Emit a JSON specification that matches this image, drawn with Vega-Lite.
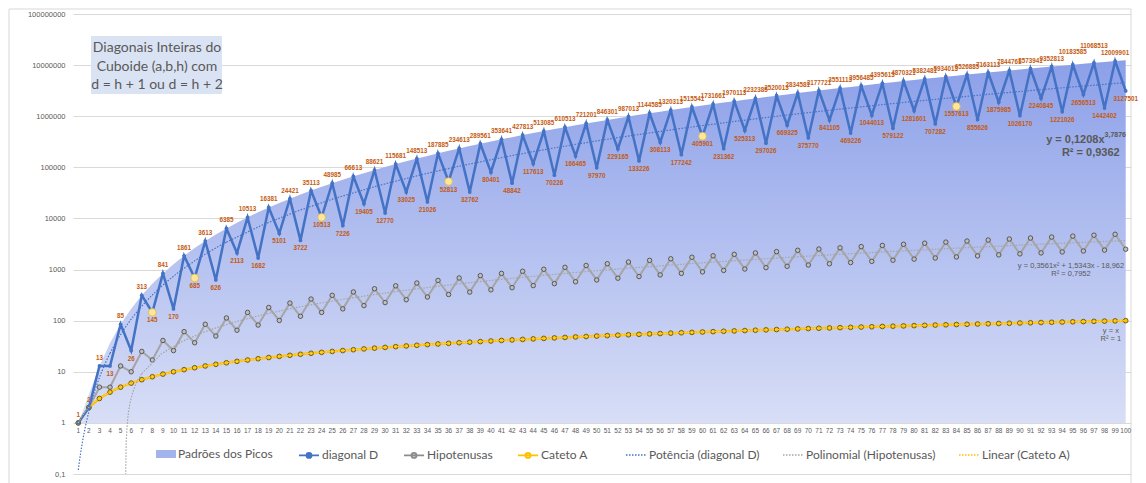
{
  "$schema": "https://vega.github.io/schema/vega-lite/v6.json",
  "width": 1058,
  "height": 460,
  "autosize": {"type": "none"},
  "padding": {"left": 73, "top": 14, "right": 15, "bottom": 9},
  "background": "white",
  "config": {"view": {"stroke": null}, "font": "Lato"},
  "resolve": {"scale": {"fill": "independent", "stroke": "independent"}, "legend": {"fill": "independent", "stroke": "independent"}},
  "data": {
    "values": [
      {"n": 1, "diagonal": 1, "hipotenusa": 1, "cateto": 1, "pico": 1},
      {"n": 2, "diagonal": 2, "hipotenusa": 2, "cateto": 2, "pico": 3.6},
      {"n": 3, "diagonal": 13, "hipotenusa": 5, "cateto": 3, "pico": 13},
      {"n": 4, "diagonal": 13, "hipotenusa": 5, "cateto": 4, "pico": 36.6},
      {"n": 5, "diagonal": 85, "hipotenusa": 13, "cateto": 5, "pico": 85},
      {"n": 6, "diagonal": 26, "hipotenusa": 10, "cateto": 6, "pico": 171.6},
      {"n": 7, "diagonal": 313, "hipotenusa": 25, "cateto": 7, "pico": 313},
      {"n": 8, "diagonal": 145, "hipotenusa": 17, "cateto": 8, "pico": 528.6, "destaque": true},
      {"n": 9, "diagonal": 841, "hipotenusa": 41, "cateto": 9, "pico": 841},
      {"n": 10, "diagonal": 170, "hipotenusa": 26, "cateto": 10, "pico": 1275.6},
      {"n": 11, "diagonal": 1861, "hipotenusa": 61, "cateto": 11, "pico": 1861},
      {"n": 12, "diagonal": 685, "hipotenusa": 37, "cateto": 12, "pico": 2628.6, "destaque": true},
      {"n": 13, "diagonal": 3613, "hipotenusa": 85, "cateto": 13, "pico": 3613},
      {"n": 14, "diagonal": 626, "hipotenusa": 50, "cateto": 14, "pico": 4851.6},
      {"n": 15, "diagonal": 6385, "hipotenusa": 113, "cateto": 15, "pico": 6385},
      {"n": 16, "diagonal": 2113, "hipotenusa": 65, "cateto": 16, "pico": 8256.6},
      {"n": 17, "diagonal": 10513, "hipotenusa": 145, "cateto": 17, "pico": 10513},
      {"n": 18, "diagonal": 1682, "hipotenusa": 82, "cateto": 18, "pico": 13204},
      {"n": 19, "diagonal": 16381, "hipotenusa": 181, "cateto": 19, "pico": 16381},
      {"n": 20, "diagonal": 5101, "hipotenusa": 101, "cateto": 20, "pico": 20101},
      {"n": 21, "diagonal": 24421, "hipotenusa": 221, "cateto": 21, "pico": 24421},
      {"n": 22, "diagonal": 3722, "hipotenusa": 122, "cateto": 22, "pico": 29404},
      {"n": 23, "diagonal": 35113, "hipotenusa": 265, "cateto": 23, "pico": 35113},
      {"n": 24, "diagonal": 10513, "hipotenusa": 145, "cateto": 24, "pico": 41617, "destaque": true},
      {"n": 25, "diagonal": 48985, "hipotenusa": 313, "cateto": 25, "pico": 48985},
      {"n": 26, "diagonal": 7226, "hipotenusa": 170, "cateto": 26, "pico": 57292},
      {"n": 27, "diagonal": 66613, "hipotenusa": 365, "cateto": 27, "pico": 66613},
      {"n": 28, "diagonal": 19405, "hipotenusa": 197, "cateto": 28, "pico": 77029},
      {"n": 29, "diagonal": 88621, "hipotenusa": 421, "cateto": 29, "pico": 88621},
      {"n": 30, "diagonal": 12770, "hipotenusa": 226, "cateto": 30, "pico": 101476},
      {"n": 31, "diagonal": 115681, "hipotenusa": 481, "cateto": 31, "pico": 115681},
      {"n": 32, "diagonal": 33025, "hipotenusa": 257, "cateto": 32, "pico": 131329},
      {"n": 33, "diagonal": 148513, "hipotenusa": 545, "cateto": 33, "pico": 148513},
      {"n": 34, "diagonal": 21026, "hipotenusa": 290, "cateto": 34, "pico": 167332},
      {"n": 35, "diagonal": 187885, "hipotenusa": 613, "cateto": 35, "pico": 187885},
      {"n": 36, "diagonal": 52813, "hipotenusa": 325, "cateto": 36, "pico": 210277, "destaque": true},
      {"n": 37, "diagonal": 234613, "hipotenusa": 685, "cateto": 37, "pico": 234613},
      {"n": 38, "diagonal": 32762, "hipotenusa": 362, "cateto": 38, "pico": 261004},
      {"n": 39, "diagonal": 289561, "hipotenusa": 761, "cateto": 39, "pico": 289561},
      {"n": 40, "diagonal": 80401, "hipotenusa": 401, "cateto": 40, "pico": 320401},
      {"n": 41, "diagonal": 353641, "hipotenusa": 841, "cateto": 41, "pico": 353641},
      {"n": 42, "diagonal": 48842, "hipotenusa": 442, "cateto": 42, "pico": 389404},
      {"n": 43, "diagonal": 427813, "hipotenusa": 925, "cateto": 43, "pico": 427813},
      {"n": 44, "diagonal": 117613, "hipotenusa": 485, "cateto": 44, "pico": 468997},
      {"n": 45, "diagonal": 513085, "hipotenusa": 1013, "cateto": 45, "pico": 513085},
      {"n": 46, "diagonal": 70226, "hipotenusa": 530, "cateto": 46, "pico": 560212},
      {"n": 47, "diagonal": 610513, "hipotenusa": 1105, "cateto": 47, "pico": 610513},
      {"n": 48, "diagonal": 166465, "hipotenusa": 577, "cateto": 48, "pico": 664129},
      {"n": 49, "diagonal": 721201, "hipotenusa": 1201, "cateto": 49, "pico": 721201},
      {"n": 50, "diagonal": 97970, "hipotenusa": 626, "cateto": 50, "pico": 781876},
      {"n": 51, "diagonal": 846301, "hipotenusa": 1301, "cateto": 51, "pico": 846301},
      {"n": 52, "diagonal": 229165, "hipotenusa": 677, "cateto": 52, "pico": 914629},
      {"n": 53, "diagonal": 987013, "hipotenusa": 1405, "cateto": 53, "pico": 987013},
      {"n": 54, "diagonal": 133226, "hipotenusa": 730, "cateto": 54, "pico": 1063612},
      {"n": 55, "diagonal": 1144585, "hipotenusa": 1513, "cateto": 55, "pico": 1144585},
      {"n": 56, "diagonal": 308113, "hipotenusa": 785, "cateto": 56, "pico": 1230097},
      {"n": 57, "diagonal": 1320313, "hipotenusa": 1625, "cateto": 57, "pico": 1320313},
      {"n": 58, "diagonal": 177242, "hipotenusa": 842, "cateto": 58, "pico": 1415404},
      {"n": 59, "diagonal": 1515541, "hipotenusa": 1741, "cateto": 59, "pico": 1515541},
      {"n": 60, "diagonal": 405901, "hipotenusa": 901, "cateto": 60, "pico": 1620901, "destaque": true},
      {"n": 61, "diagonal": 1731661, "hipotenusa": 1861, "cateto": 61, "pico": 1731661},
      {"n": 62, "diagonal": 231362, "hipotenusa": 962, "cateto": 62, "pico": 1848004},
      {"n": 63, "diagonal": 1970113, "hipotenusa": 1985, "cateto": 63, "pico": 1970113},
      {"n": 64, "diagonal": 525313, "hipotenusa": 1025, "cateto": 64, "pico": 2098177},
      {"n": 65, "diagonal": 2232385, "hipotenusa": 2113, "cateto": 65, "pico": 2232385},
      {"n": 66, "diagonal": 297026, "hipotenusa": 1090, "cateto": 66, "pico": 2372932},
      {"n": 67, "diagonal": 2520013, "hipotenusa": 2245, "cateto": 67, "pico": 2520013},
      {"n": 68, "diagonal": 669325, "hipotenusa": 1157, "cateto": 68, "pico": 2673829},
      {"n": 69, "diagonal": 2834581, "hipotenusa": 2381, "cateto": 69, "pico": 2834581},
      {"n": 70, "diagonal": 375770, "hipotenusa": 1226, "cateto": 70, "pico": 3002476},
      {"n": 71, "diagonal": 3177721, "hipotenusa": 2521, "cateto": 71, "pico": 3177721},
      {"n": 72, "diagonal": 841105, "hipotenusa": 1297, "cateto": 72, "pico": 3360529},
      {"n": 73, "diagonal": 3551113, "hipotenusa": 2665, "cateto": 73, "pico": 3551113},
      {"n": 74, "diagonal": 469226, "hipotenusa": 1370, "cateto": 74, "pico": 3749692},
      {"n": 75, "diagonal": 3956485, "hipotenusa": 2813, "cateto": 75, "pico": 3956485},
      {"n": 76, "diagonal": 1044013, "hipotenusa": 1445, "cateto": 76, "pico": 4171717},
      {"n": 77, "diagonal": 4395613, "hipotenusa": 2965, "cateto": 77, "pico": 4395613},
      {"n": 78, "diagonal": 579122, "hipotenusa": 1522, "cateto": 78, "pico": 4628404},
      {"n": 79, "diagonal": 4870321, "hipotenusa": 3121, "cateto": 79, "pico": 4870321},
      {"n": 80, "diagonal": 1281601, "hipotenusa": 1601, "cateto": 80, "pico": 5121601},
      {"n": 81, "diagonal": 5382481, "hipotenusa": 3281, "cateto": 81, "pico": 5382481},
      {"n": 82, "diagonal": 707282, "hipotenusa": 1682, "cateto": 82, "pico": 5653204},
      {"n": 83, "diagonal": 5934013, "hipotenusa": 3445, "cateto": 83, "pico": 5934013},
      {"n": 84, "diagonal": 1557613, "hipotenusa": 1765, "cateto": 84, "pico": 6225157, "destaque": true},
      {"n": 85, "diagonal": 6526885, "hipotenusa": 3613, "cateto": 85, "pico": 6526885},
      {"n": 86, "diagonal": 855626, "hipotenusa": 1850, "cateto": 86, "pico": 6839452},
      {"n": 87, "diagonal": 7163113, "hipotenusa": 3785, "cateto": 87, "pico": 7163113},
      {"n": 88, "diagonal": 1875985, "hipotenusa": 1937, "cateto": 88, "pico": 7498129},
      {"n": 89, "diagonal": 7844761, "hipotenusa": 3961, "cateto": 89, "pico": 7844761},
      {"n": 90, "diagonal": 1026170, "hipotenusa": 2026, "cateto": 90, "pico": 8203276},
      {"n": 91, "diagonal": 8573941, "hipotenusa": 4141, "cateto": 91, "pico": 8573941},
      {"n": 92, "diagonal": 2240845, "hipotenusa": 2117, "cateto": 92, "pico": 8957029},
      {"n": 93, "diagonal": 9352813, "hipotenusa": 4325, "cateto": 93, "pico": 9352813},
      {"n": 94, "diagonal": 1221026, "hipotenusa": 2210, "cateto": 94, "pico": 9761572},
      {"n": 95, "diagonal": 10183585, "hipotenusa": 4513, "cateto": 95, "pico": 10183585},
      {"n": 96, "diagonal": 2656513, "hipotenusa": 2305, "cateto": 96, "pico": 10619137},
      {"n": 97, "diagonal": 11068513, "hipotenusa": 4705, "cateto": 97, "pico": 11068513},
      {"n": 98, "diagonal": 1442402, "hipotenusa": 2402, "cateto": 98, "pico": 11532004},
      {"n": 99, "diagonal": 12009901, "hipotenusa": 4901, "cateto": 99, "pico": 12009901},
      {"n": 100, "diagonal": 3127501, "hipotenusa": 2501, "cateto": 100, "pico": 12502501}
    ]
  },
  "layer": [
    {
      "mark": {
        "type": "area",
        "opacity": 1,
        "color": {
          "gradient": "linear", "x1": 0, "y1": 0, "x2": 0, "y2": 1,
          "stops": [
            {"offset": 0, "color": "#8ca0e9"},
            {"offset": 1, "color": "#d8def6"}
          ]
        }
      },
      "encoding": {
        "x": {
          "field": "n", "type": "quantitative",
          "scale": {"domain": [0.5, 100.5], "nice": false, "zero": false},
          "axis": null
        },
        "y": {
          "field": "pico", "type": "quantitative",
          "scale": {"type": "log", "domain": [0.1, 100000000], "nice": false},
          "axis": {
            "title": null, "grid": true, "gridColor": "#d9d9d9", "gridWidth": 1,
            "domain": false, "ticks": false,
            "values": [0.1, 1, 10, 100, 1000, 10000, 100000, 1000000, 10000000, 100000000],
            "labelExpr": "datum.value < 1 ? '0,1' : format(datum.value, 'd')",
            "labelPadding": 8, "labelFontSize": 7.5, "labelColor": "#595959", "labelFont": "Liberation Sans"
          }
        },
        "y2": {"datum": 1}
      }
    },
    {
      "data": {"values": [{}]},
      "mark": {"type": "rect", "fill": null, "stroke": "#d9d9d9", "strokeWidth": 1, "clip": false},
      "encoding": {
        "x": {"datum": -5.55, "type": "quantitative"},
        "x2": {"datum": 100.5},
        "y": {"datum": 125300000, "type": "quantitative"},
        "y2": {"datum": 0.01}
      }
    },
    {
      "mark": {"type": "text", "dy": 8, "baseline": "middle", "align": "center", "fontSize": 6.5, "font": "Liberation Sans", "color": "#595959"},
      "encoding": {
        "x": {"field": "n", "type": "quantitative"},
        "y": {"datum": 1, "type": "quantitative"},
        "text": {"field": "n", "type": "quantitative", "format": "d"}
      }
    },
    {
      "data": {"values": [{}]},
      "mark": {"type": "rect", "fill": "#dae3f3"},
      "encoding": {
        "x": {"datum": 2.2, "type": "quantitative"},
        "x2": {"datum": 14.58},
        "y": {"datum": 37150000, "type": "quantitative"},
        "y2": {"datum": 2720000}
      }
    },
    {
      "data": {"values": [{}]},
      "mark": {
        "type": "text",
        "text": ["Diagonais Inteiras do", "Cuboide (a,b,h) com", "d = h + 1 ou d = h + 2"],
        "align": "center", "baseline": "middle", "lineHeight": 18.5,
        "fontSize": 14, "font": "Lato", "color": "#595959"
      },
      "encoding": {
        "x": {"datum": 8.44, "type": "quantitative"},
        "y": {"datum": 21610000, "type": "quantitative"}
      }
    },
    {
      "mark": {"type": "line", "color": "#a5a5a5", "strokeWidth": 2},
      "encoding": {
        "x": {"field": "n", "type": "quantitative"},
        "y": {"field": "hipotenusa", "type": "quantitative"}
      }
    },
    {
      "mark": {"type": "point", "shape": "circle", "filled": true, "fill": "#bfbfbf", "stroke": "#404040", "strokeWidth": 0.8, "size": 20, "opacity": 1},
      "encoding": {
        "x": {"field": "n", "type": "quantitative"},
        "y": {"field": "hipotenusa", "type": "quantitative"}
      }
    },
    {
      "mark": {"type": "line", "color": "#ffc000", "strokeWidth": 2.5},
      "encoding": {
        "x": {"field": "n", "type": "quantitative"},
        "y": {"field": "cateto", "type": "quantitative"}
      }
    },
    {
      "mark": {"type": "point", "shape": "circle", "filled": true, "fill": "#ffc000", "stroke": "#5a4500", "strokeWidth": 0.8, "size": 22, "opacity": 1},
      "encoding": {
        "x": {"field": "n", "type": "quantitative"},
        "y": {"field": "cateto", "type": "quantitative"}
      }
    },
    {
      "mark": {"type": "line", "color": "#4472c4", "strokeWidth": 2.5},
      "encoding": {
        "x": {"field": "n", "type": "quantitative"},
        "y": {"field": "diagonal", "type": "quantitative"}
      }
    },
    {
      "mark": {"type": "point", "shape": "circle", "filled": true, "color": "#4472c4", "size": 14, "opacity": 1},
      "encoding": {
        "x": {"field": "n", "type": "quantitative"},
        "y": {"field": "diagonal", "type": "quantitative"}
      }
    },
    {
      "transform": [{"filter": "datum.destaque"}],
      "mark": {"type": "point", "shape": "circle", "filled": true, "fill": "#ffe699", "stroke": "#d6b656", "strokeWidth": 0.8, "size": 60, "opacity": 1},
      "encoding": {
        "x": {"field": "n", "type": "quantitative"},
        "y": {"field": "diagonal", "type": "quantitative"}
      }
    },
    {
      "transform": [{"regression": "diagonal", "on": "n", "method": "pow", "extent": [1, 4]}],
      "mark": {"type": "line", "color": "#4472c4", "strokeWidth": 1.2, "strokeDash": [1.5, 1.5], "clip": true},
      "encoding": {
        "x": {"field": "n", "type": "quantitative"},
        "y": {"field": "diagonal", "type": "quantitative"}
      }
    },
    {
      "transform": [{"regression": "diagonal", "on": "n", "method": "pow", "extent": [4, 15]}],
      "mark": {"type": "line", "color": "#4472c4", "strokeWidth": 1.2, "strokeDash": [1.5, 1.5], "clip": true},
      "encoding": {
        "x": {"field": "n", "type": "quantitative"},
        "y": {"field": "diagonal", "type": "quantitative"}
      }
    },
    {
      "transform": [{"regression": "diagonal", "on": "n", "method": "pow", "extent": [15, 100]}],
      "mark": {"type": "line", "color": "#4472c4", "strokeWidth": 1.2, "strokeDash": [1.5, 1.5], "clip": true},
      "encoding": {
        "x": {"field": "n", "type": "quantitative"},
        "y": {"field": "diagonal", "type": "quantitative"}
      }
    },
    {
      "transform": [{"regression": "hipotenusa", "on": "n", "method": "poly", "order": 2, "extent": [5.47, 7]}],
      "mark": {"type": "line", "color": "#a5a5a5", "strokeWidth": 1.2, "strokeDash": [1.5, 1.5], "clip": true},
      "encoding": {
        "x": {"field": "n", "type": "quantitative"},
        "y": {"field": "hipotenusa", "type": "quantitative"}
      }
    },
    {
      "transform": [{"regression": "hipotenusa", "on": "n", "method": "poly", "order": 2, "extent": [7, 100]}],
      "mark": {"type": "line", "color": "#a5a5a5", "strokeWidth": 1.2, "strokeDash": [1.5, 1.5], "clip": true},
      "encoding": {
        "x": {"field": "n", "type": "quantitative"},
        "y": {"field": "hipotenusa", "type": "quantitative"}
      }
    },
    {
      "transform": [{"regression": "cateto", "on": "n", "method": "poly", "order": 1, "extent": [1, 3]}],
      "mark": {"type": "line", "color": "#ffd966", "strokeWidth": 1, "strokeDash": [1.5, 1.5], "clip": true},
      "encoding": {
        "x": {"field": "n", "type": "quantitative"},
        "y": {"field": "cateto", "type": "quantitative"}
      }
    },
    {
      "transform": [{"regression": "cateto", "on": "n", "method": "poly", "order": 1, "extent": [3, 12]}],
      "mark": {"type": "line", "color": "#ffd966", "strokeWidth": 1, "strokeDash": [1.5, 1.5], "clip": true},
      "encoding": {
        "x": {"field": "n", "type": "quantitative"},
        "y": {"field": "cateto", "type": "quantitative"}
      }
    },
    {
      "transform": [{"regression": "cateto", "on": "n", "method": "poly", "order": 1, "extent": [12, 100]}],
      "mark": {"type": "line", "color": "#ffd966", "strokeWidth": 1, "strokeDash": [1.5, 1.5], "clip": true},
      "encoding": {
        "x": {"field": "n", "type": "quantitative"},
        "y": {"field": "cateto", "type": "quantitative"}
      }
    },
    {
      "transform": [{"filter": "(datum.n % 2 == 1 || datum.n == 2) && datum.n != 95 && datum.n != 97"}],
      "mark": {"type": "text", "dy": -8, "baseline": "middle", "align": "center", "fontSize": 6.3, "fontWeight": "bold", "font": "Liberation Sans", "color": "#c55a11"},
      "encoding": {
        "x": {"field": "n", "type": "quantitative"},
        "y": {"field": "diagonal", "type": "quantitative"},
        "text": {"field": "diagonal", "type": "quantitative", "format": "d"}
      }
    },
    {
      "transform": [{"filter": "datum.n == 95"}],
      "mark": {"type": "text", "dy": -13, "baseline": "middle", "align": "center", "fontSize": 6.3, "fontWeight": "bold", "font": "Liberation Sans", "color": "#c55a11"},
      "encoding": {
        "x": {"field": "n", "type": "quantitative"},
        "y": {"field": "diagonal", "type": "quantitative"},
        "text": {"field": "diagonal", "type": "quantitative", "format": "d"}
      }
    },
    {
      "transform": [{"filter": "datum.n == 97"}],
      "mark": {"type": "text", "dy": -17, "baseline": "middle", "align": "center", "fontSize": 6.3, "fontWeight": "bold", "font": "Liberation Sans", "color": "#c55a11"},
      "encoding": {
        "x": {"field": "n", "type": "quantitative"},
        "y": {"field": "diagonal", "type": "quantitative"},
        "text": {"field": "diagonal", "type": "quantitative", "format": "d"}
      }
    },
    {
      "transform": [{"filter": "datum.n % 2 == 0 && datum.n > 2"}],
      "mark": {"type": "text", "dy": 8, "baseline": "middle", "align": "center", "fontSize": 6.3, "fontWeight": "bold", "font": "Liberation Sans", "color": "#c55a11"},
      "encoding": {
        "x": {"field": "n", "type": "quantitative"},
        "y": {"field": "diagonal", "type": "quantitative"},
        "text": {"field": "diagonal", "type": "quantitative", "format": "d"}
      }
    },
    {
      "data": {"values": [{}]},
      "mark": {"type": "text", "text": "y = 0,1208x", "align": "right", "baseline": "middle", "fontSize": 11, "fontWeight": "bold", "font": "Liberation Sans", "color": "#595959"},
      "encoding": {"x": {"datum": 98.0, "type": "quantitative"}, "y": {"datum": 342800, "type": "quantitative"}}
    },
    {
      "data": {"values": [{}]},
      "mark": {"type": "text", "text": "3,7876", "align": "left", "baseline": "middle", "fontSize": 7, "fontWeight": "bold", "font": "Liberation Sans", "color": "#595959"},
      "encoding": {"x": {"datum": 98.0, "type": "quantitative"}, "y": {"datum": 429500, "type": "quantitative"}}
    },
    {
      "data": {"values": [{}]},
      "mark": {"type": "text", "text": "R² = 0,9362", "align": "center", "baseline": "middle", "fontSize": 11, "fontWeight": "bold", "font": "Liberation Sans", "color": "#595959"},
      "encoding": {"x": {"datum": 96.7, "type": "quantitative"}, "y": {"datum": 190500, "type": "quantitative"}}
    },
    {
      "data": {"values": [{}]},
      "mark": {"type": "text", "text": "y = 0,3561x² + 1,5343x - 18,962", "align": "center", "baseline": "middle", "fontSize": 7.5, "font": "Liberation Sans", "color": "#595959"},
      "encoding": {"x": {"datum": 94.83, "type": "quantitative"}, "y": {"datum": 1175, "type": "quantitative"}}
    },
    {
      "data": {"values": [{}]},
      "mark": {"type": "text", "text": "R² = 0,7952", "align": "center", "baseline": "middle", "fontSize": 7.5, "font": "Liberation Sans", "color": "#595959"},
      "encoding": {"x": {"datum": 94.83, "type": "quantitative"}, "y": {"datum": 819, "type": "quantitative"}}
    },
    {
      "data": {"values": [{}]},
      "mark": {"type": "text", "text": "y = x", "align": "center", "baseline": "middle", "fontSize": 7.5, "font": "Liberation Sans", "color": "#595959"},
      "encoding": {"x": {"datum": 98.6, "type": "quantitative"}, "y": {"datum": 63.1, "type": "quantitative"}}
    },
    {
      "data": {"values": [{}]},
      "mark": {"type": "text", "text": "R² = 1", "align": "center", "baseline": "middle", "fontSize": 7.5, "font": "Liberation Sans", "color": "#595959"},
      "encoding": {"x": {"datum": 98.6, "type": "quantitative"}, "y": {"datum": 43.2, "type": "quantitative"}}
    },
    {
      "transform": [{"filter": "false"}],
      "mark": {"type": "point", "filled": true, "opacity": 1},
      "encoding": {
        "fill": {
          "field": "serie", "type": "nominal",
          "scale": {"domain": ["Padrões dos Picos"], "range": ["#a3b4ed"]},
          "legend": {
            "title": null, "orient": "none", "legendX": 83, "legendY": 430, "direction": "horizontal",
            "symbolType": "M-1,-0.4H1V0.4H-1Z", "symbolSize": 400, "symbolStrokeWidth": 0,
            "labelFont": "Lato", "labelFontSize": 12, "labelColor": "#595959", "labelOffset": 2, "padding": 0
          }
        }
      }
    },
    {
      "transform": [{"filter": "false"}],
      "mark": {"type": "point", "opacity": 1, "strokeWidth": 1.8, "shape": "M-1,0H1M0.25,0A0.25,0.25 0 1,1 -0.25,0A0.25,0.25 0 1,1 0.25,0"},
      "encoding": {
        "stroke": {
          "field": "serie", "type": "nominal",
          "scale": {"domain": ["diagonal D", "Hipotenusas", "Cateto A"], "range": ["#4472c4", "#8c8c8c", "#ffc000"]},
          "legend": {
            "title": null, "orient": "none", "legendX": 225, "legendY": 430, "direction": "horizontal",
            "symbolType": "M-1,0H1M0.25,0A0.25,0.25 0 1,1 -0.25,0A0.25,0.25 0 1,1 0.25,0", "symbolSize": 400, "symbolStrokeWidth": 1.8,
            "labelFont": "Lato", "labelFontSize": 12, "labelColor": "#595959", "labelOffset": 2, "columnPadding": 21, "padding": 0
          }
        },
        "fill": {
          "field": "serie", "type": "nominal",
          "scale": {"domain": ["diagonal D", "Hipotenusas", "Cateto A"], "range": ["#4472c4", "#d9d9d9", "#ffe699"]},
          "legend": {
            "title": null, "orient": "none", "legendX": 225, "legendY": 430, "direction": "horizontal",
            "symbolType": "M-1,0H1M0.25,0A0.25,0.25 0 1,1 -0.25,0A0.25,0.25 0 1,1 0.25,0", "symbolSize": 400, "symbolStrokeWidth": 1.8,
            "labelFont": "Lato", "labelFontSize": 12, "labelColor": "#595959", "labelOffset": 2, "columnPadding": 21, "padding": 0
          }
        }
      }
    },
    {
      "transform": [{"filter": "false"}],
      "mark": {"type": "line", "opacity": 1},
      "encoding": {
        "x": {"field": "n", "type": "quantitative"},
        "y": {"field": "cateto", "type": "quantitative"},
        "stroke": {
          "field": "serie", "type": "nominal",
          "scale": {"domain": ["Potência (diagonal D)", "Polinomial (Hipotenusas)", "Linear (Cateto A)"], "range": ["#4472c4", "#a5a5a5", "#ffc000"]},
          "legend": {
            "title": null, "orient": "none", "legendX": 552, "legendY": 430, "direction": "horizontal",
            "symbolType": "stroke", "symbolSize": 400, "symbolStrokeWidth": 1.3, "symbolDash": [1.5, 1.5],
            "labelFont": "Lato", "labelFontSize": 12, "labelColor": "#595959", "labelOffset": 2, "columnPadding": 20, "padding": 0
          }
        }
      }
    }
  ]
}
